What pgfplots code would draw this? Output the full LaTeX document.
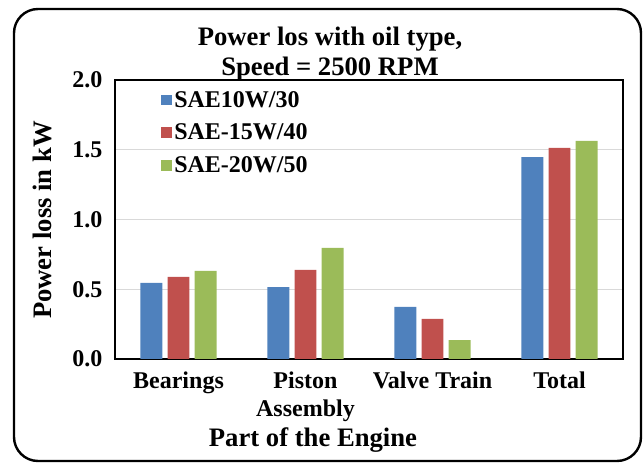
\documentclass[border=0pt]{standalone}
\usepackage{fontspec}
\setmainfont{Liberation Serif}[BoldFont={Liberation Serif Bold}, ItalicFont={Liberation Serif Italic}]
\usepackage{pgfplots}
\pgfplotsset{compat=1.18}
\definecolor{sblue}{HTML}{4F81BD}
\definecolor{sred}{HTML}{C0504D}
\definecolor{sgreen}{HTML}{9BBB59}
\begin{document}
\begin{tikzpicture}[x=0.75pt,y=0.75pt]
\path[use as bounding box] (0,0) rectangle (643,-463);
\draw[line width=1.8pt, rounded corners=18pt] (14,-9) rectangle (641,-461);
\node[font=\fontsize{20}{23}\selectfont\bfseries, align=center] at (330,-54) {Power los with oil type,\\Speed = 2500 RPM};
\node[font=\fontsize{20}{23}\selectfont\bfseries, rotate=90] at (42,-220) {Power loss in kW};
\node[font=\fontsize{20}{23}\selectfont\bfseries] at (313,-440) {Part of the Engine};
\begin{axis}[
  at={(86.25pt,-269.25pt)}, anchor=south west,
  scale only axis, width=381pt, height=209.25pt,
  ybar, bar width=0.173,
  xmin=-0.5, xmax=3.5, ymin=0, ymax=2,
  xtick={0,1,2,3},
  xticklabels={Bearings, {Piston\\Assembly}, Valve Train, Total},
  xticklabel style={align=center, font=\fontsize{18}{21}\selectfont\bfseries, yshift=-6pt},
  ytick={0,0.5,1,1.5,2},
  yticklabel style={font=\fontsize{18}{21}\selectfont\bfseries, xshift=-6pt},
  /pgf/number format/assume math mode=true,
  /pgf/number format/fixed, /pgf/number format/fixed zerofill, /pgf/number format/precision=1,
  major tick length=0pt,
  ymajorgrids, grid style={color=black!15, line width=0.9pt},
  axis line style={line width=1.2pt},
  legend style={at={(0.082,0.98)}, anchor=north west, draw=none, fill=none,
    font=\fontsize{18}{21}\selectfont\bfseries, row sep=7pt,
    legend cell align=left},
  legend image code/.code={\fill[#1] (0pt,-4pt) rectangle (8pt,4pt);},
]
\addplot[fill=sblue, draw=none, bar shift=-0.213] coordinates {(0,0.545) (1,0.516) (2,0.373) (3,1.448)};
\addplot[fill=sred, draw=none, bar shift=0] coordinates {(0,0.588) (1,0.638) (2,0.287) (3,1.513)};
\addplot[fill=sgreen, draw=none, bar shift=0.213] coordinates {(0,0.631) (1,0.796) (2,0.136) (3,1.563)};
\legend{SAE10W/30, SAE-15W/40, SAE-20W/50}
\end{axis}
\end{tikzpicture}
\end{document}
